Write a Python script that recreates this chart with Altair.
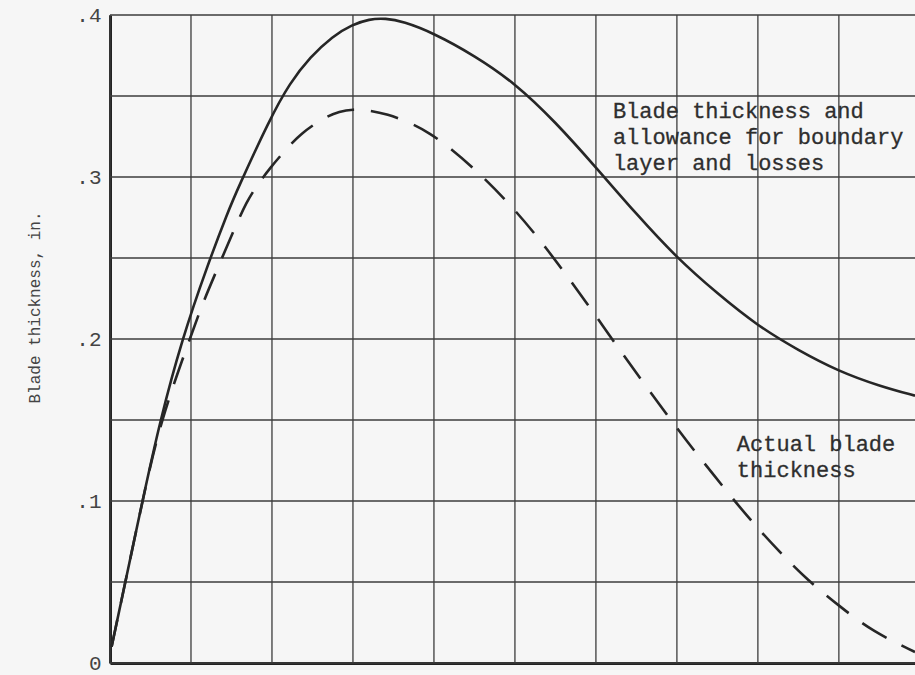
import altair as alt
import pandas as pd

# ---- data (x in grid units, y in inches) ----
x_solid = [0.02, 0.40, 0.62, 0.89, 1.20, 1.46, 1.57, 1.975, 2.22, 2.47, 2.75, 2.99,
           3.20, 3.40, 3.62, 3.99, 4.50, 5.00, 5.50, 6.00, 6.50, 7.00, 7.50, 8.00,
           8.50, 9.00, 9.50, 9.94]
y_solid = [0.010, 0.100, 0.150, 0.200, 0.245, 0.279, 0.292, 0.336, 0.358, 0.374,
           0.387, 0.394, 0.3975, 0.398, 0.396, 0.389, 0.375, 0.358, 0.334, 0.306,
           0.277, 0.250, 0.228, 0.208, 0.193, 0.180, 0.171, 0.165]

x_dash = [0.02, 0.40, 0.62, 0.99, 1.14, 1.33, 1.54, 1.69, 1.81, 1.975, 2.19, 2.35,
          2.63, 2.84, 3.00, 3.17, 3.42, 3.73, 3.95, 4.20, 4.57, 4.96, 5.35, 5.95,
          6.21, 6.79, 7.12, 7.44, 7.86, 8.27, 8.60, 9.01, 9.42, 9.94]
y_dash = [0.010, 0.100, 0.149, 0.2006, 0.2216, 0.2438, 0.2685, 0.285, 0.2944, 0.3056,
          0.318, 0.3265, 0.3364, 0.3407, 0.3418, 0.3414, 0.339, 0.333, 0.327, 0.318,
          0.302, 0.282, 0.259, 0.218, 0.199, 0.159, 0.137, 0.117, 0.0908, 0.0684,
          0.0517, 0.0349, 0.0193, 0.0068]

grid_x = [0, 1, 2, 3, 4, 5, 6, 7, 8, 9]
grid_y = [0, 0.05, 0.10, 0.15, 0.20, 0.25, 0.30, 0.35, 0.40]
y_ticks = [0, 0.1, 0.2, 0.3, 0.4]

note1_lines = ["Blade thickness and", "allowance for boundary", "layer and losses"]
note1_x = [6.21, 6.21, 6.21]
note1_y = [0.3364, 0.3203, 0.3043]

note2_lines = ["Actual blade", "thickness"]
note2_x = [7.74, 7.74]
note2_y = [0.1309, 0.1148]

y_title = "Blade thickness, in."

# ---- tables ----
solid_df = pd.DataFrame({"x": x_solid, "y": y_solid})
dash_df = pd.DataFrame({"x": x_dash, "y": y_dash})
gx_df = pd.DataFrame({"x": grid_x})
gy_df = pd.DataFrame({"y": grid_y})
notes_df = pd.DataFrame({
    "x": note1_x + note2_x,
    "y": note1_y + note2_y,
    "t": note1_lines + note2_lines,
})

FONT = "Liberation Mono"
xscale = alt.Scale(domain=[0, 9.94], nice=False, zero=False)
yscale = alt.Scale(domain=[0, 0.4], nice=False, zero=False)

x_axis = alt.Axis(title=None, labels=False, ticks=False, grid=False,
                  domain=True, domainColor="#222222", domainWidth=3)
y_axis = alt.Axis(title=y_title, values=y_ticks, grid=False, ticks=False,
                  domain=True, domainColor="#222222", domainWidth=3,
                  labelFont=FONT, labelFontSize=21, labelColor="#444444",
                  labelPadding=9,
                  labelExpr="datum.value == 0 ? '0' : replace(format(datum.value, '.1f'), '0.', '.')",
                  titleFont=FONT, titleFontSize=16, titleFontWeight="normal",
                  titleColor="#444444", titleAngle=270, titleX=-76, titleY=292,
                  titleAlign="center", titleBaseline="middle")

X = alt.X("x:Q", scale=xscale, axis=x_axis)
Y = alt.Y("y:Q", scale=yscale, axis=y_axis)

vgrid = alt.Chart(gx_df).mark_rule(color="#3c3c3c", strokeWidth=1.3).encode(x=X)
hgrid = alt.Chart(gy_df).mark_rule(color="#3c3c3c", strokeWidth=1.3).encode(y=Y)

solid = alt.Chart(solid_df).mark_line(
    color="#262626", strokeWidth=2.6, interpolate="basis"
).encode(x=X, y=Y)

dashed = alt.Chart(dash_df).mark_line(
    color="#262626", strokeWidth=2.6, interpolate="basis", strokeDash=[28, 17]
).encode(x=X, y=Y)

notes = alt.Chart(notes_df).mark_text(
    font=FONT, fontSize=22, color="#2e2e2e", stroke="#2e2e2e", strokeWidth=0.3,
    align="left", baseline="alphabetic"
).encode(x=X, y=Y, text="t:N")

chart = alt.layer(vgrid, hgrid, solid, dashed, notes).properties(
    width=805, height=648,
    background="#f6f6f6",
    padding={"left": 110, "top": 15, "right": 0, "bottom": 12},
    autosize=alt.AutoSizeParams(type="none"),
).configure_view(stroke=None)

chart.save("out.html", embed_options={"renderer": "svg", "actions": False})
